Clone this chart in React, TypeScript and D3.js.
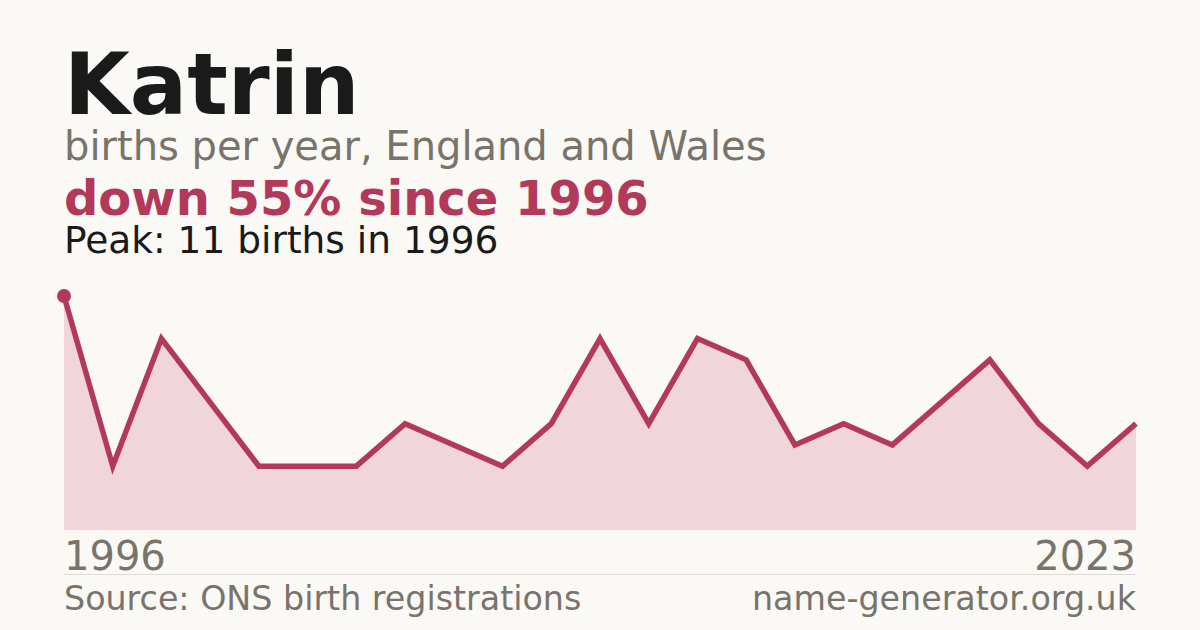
import React from "react";
import * as d3 from "d3";

const W = 1200;
const H = 630;

// births per year, one per plotted year (evenly spaced)
const births = [11, 3, 9, 6, 3, 3, 3, 5, 4, 3, 5, 9, 5, 9, 8, 4, 5, 4, 6, 8, 5, 3, 5];
const firstYear = "1996";
const lastYear = "2023";

const red = "#b3395a";
const gray = "#78736b";
const font = "'DejaVu Sans', sans-serif";

const left = 64;
const right = 1136;
const top = 296;
const bottom = 530;

export default function App() {
  const x = d3.scaleLinear().domain([0, births.length - 1]).range([left, right]);
  const y = d3.scaleLinear().domain([0, d3.max(births) as number]).range([bottom, top]);

  const line = d3
    .line<number>()
    .x((_, i) => x(i))
    .y((d) => y(d));
  const area = d3
    .area<number>()
    .x((_, i) => x(i))
    .y0(bottom)
    .y1((d) => y(d));

  const peakIdx = births.indexOf(d3.max(births) as number);

  return (
    <>
      <style>{`body { margin: 0; }`}</style>
      <svg width={W} height={H} style={{ display: "block", fontFamily: font }}>
        <rect width={W} height={H} fill="#faf9f5" />
        <text x={left} y={114} fontSize={85} fontWeight="bold" fill="#1a1a1a">
          Katrin
        </text>
        <text x={left} y={160} fontSize={40} fill={gray}>
          births per year, England and Wales
        </text>
        <text x={left} y={215} fontSize={48} fontWeight="bold" fill={red}>
          down 55% since 1996
        </text>
        <text x={left} y={253} fontSize={37.5} fill="#1a1a1a">
          Peak: 11 births in 1996
        </text>

        <path d={area(births) ?? ""} fill="#f0d5db" />
        <path
          d={line(births) ?? ""}
          fill="none"
          stroke={red}
          strokeWidth={5.5}
          strokeLinejoin="miter"
        />
        <circle cx={x(peakIdx)} cy={y(births[peakIdx])} r={7} fill={red} />

        <text x={left} y={570} fontSize={40} fill={gray}>
          {firstYear}
        </text>
        <text x={right} y={570} fontSize={40} fill={gray} textAnchor="end">
          {lastYear}
        </text>
        <line x1={left} x2={right} y1={574.5} y2={574.5} stroke="#dedbd4" strokeWidth={1} />
        <text x={left} y={610} fontSize={33.3} fill={gray}>
          Source: ONS birth registrations
        </text>
        <text x={right} y={610} fontSize={33.3} fill={gray} textAnchor="end">
          name-generator.org.uk
        </text>
      </svg>
    </>
  );
}
